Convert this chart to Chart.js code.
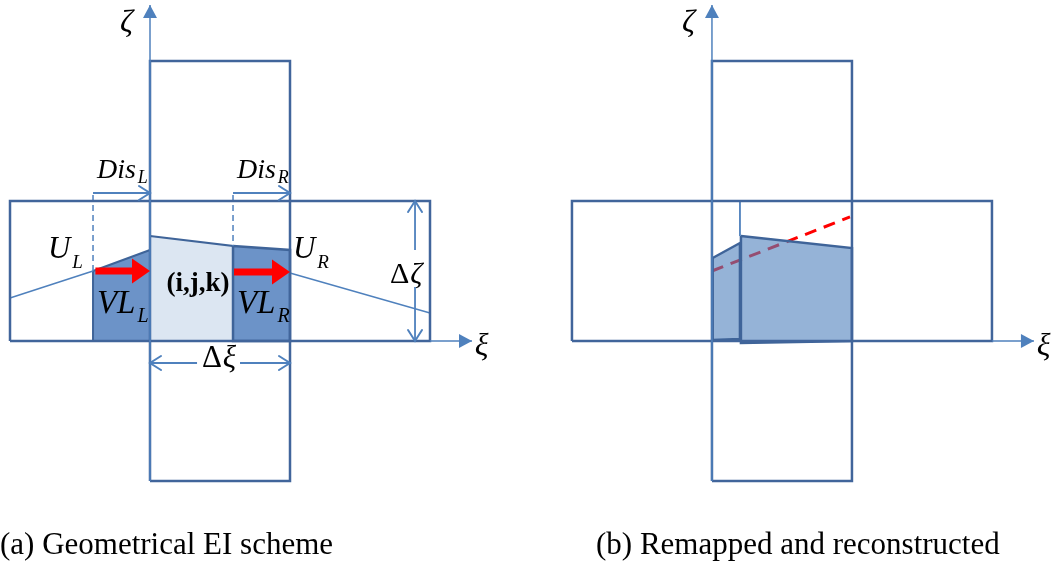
<!DOCTYPE html>
<html>
<head>
<meta charset="utf-8">
<script src="https://cdn.jsdelivr.net/npm/chart.js@4.4.0/dist/chart.umd.min.js"></script>
<style>
html, body { margin: 0; padding: 0; background: #fff; }
</style>
</head>
<body>
<canvas id="scheme-chart" width="1053" height="562"></canvas>
<script>
// Geometry in cell units: origin is the lower-left corner of cell (i,j,k), one cell = 1
var panelOffset = 4.014;   // panel (b) is drawn this far to the right of panel (a)

// grid shared by both panels
var rowBox = [[-1, 0], [2, 0], [2, 1], [-1, 1], [-1, 0]];
var columnBox = [[0, -1], [1, -1], [1, 2], [0, 2], [0, -1]];
var zetaAxis = [[0, -1], [0, 2.4]];
var xiAxis = [[2, 0], [2.3, 0]];

// panel (a) geometrical EI scheme
var volLeft = [[-0.407, 0.5], [0, 0.65], [0, 0], [-0.407, 0], [-0.407, 0.5]];
var volCenter = [[0, 0.75], [0.593, 0.679], [0.593, 0], [0, 0], [0, 0.75]];
var volRight = [[0.593, 0.679], [1, 0.65], [1, 0], [0.593, 0], [0.593, 0.679]];
var profileLeft = [[-1, 0.307], [-0.407, 0.5]];
var profileRight = [[1, 0.486], [2, 0.2]];
var disLeftGuide = [[-0.407, 1.043], [-0.407, 0.5]];
var disRightGuide = [[0.593, 1.043], [0.593, 0.679]];
var disLeftArrow = [[-0.407, 1.057], [0, 1.057]];
var disRightArrow = [[0.593, 1.057], [1, 1.057]];
var fluxLeft = [[-0.39, 0.5], [0, 0.5]];
var fluxRight = [[0.6, 0.493], [1, 0.493]];
var dZeta = [[1.893, 0], [1.893, 0.386], null, [1.893, 0.65], [1.893, 1]];
var dXi = [[0, -0.157], [0.336, -0.157], null, [0.643, -0.157], [1, -0.157]];

// panel (b) remapped and reconstructed
var remapLeft = [[0.005, 0.593], [0.2, 0.7], [0.2, 0.014], [0.005, 0.007], [0.005, 0.593]];
var remapMain = [[0.207, 0.75], [1, 0.664], [1, 0], [0.207, -0.014], [0.207, 0.75]];
var remapGuide = [[0.2, 1], [0.2, 0.75]];
var reconLine = [[0, 0.5], [0.986, 0.886]];

var captions = ['(a) Geometrical EI scheme', '(b) Remapped and reconstructed'];

var BOX = '#41659b';
var AXIS = '#4f81bd';
var EDGE = '#3f6499';
var RED = '#ff0000';

function pts(arr, shift) {
    var out = [];
    var lastX = 0;
    arr.forEach(function (p) {
        if (p === null) { out.push({ x: lastX, y: null }); return; }
        lastX = p[0] + (shift || 0);
        out.push({ x: lastX, y: p[1] });
    });
    return out;
}

function lineSet(arr, shift, color, width, dash) {
    return {
        data: pts(arr, shift), showLine: true, fill: false, pointRadius: 0,
        borderColor: color, borderWidth: width, borderDash: dash || [], tension: 0, spanGaps: false
    };
}

function shapeSet(arr, shift, fillColor, edgeColor, width) {
    return {
        data: pts(arr, shift), showLine: true, fill: 'shape', backgroundColor: fillColor,
        pointRadius: 0, borderColor: edgeColor, borderWidth: width, tension: 0
    };
}

// bottom layer first
var datasets = [
    shapeSet(volLeft, 0, '#6c93c8', EDGE, 2),
    shapeSet(volCenter, 0, '#dce6f2', EDGE, 2),
    shapeSet(volRight, 0, '#6c93c8', EDGE, 2.5),
    lineSet(profileLeft, 0, AXIS, 1.5),
    lineSet(profileRight, 0, AXIS, 1.5),
    lineSet(disLeftGuide, 0, AXIS, 1.5, [6, 4]),
    lineSet(disRightGuide, 0, AXIS, 1.5, [6, 4]),
    lineSet(disLeftArrow, 0, AXIS, 1.8),
    lineSet(disRightArrow, 0, AXIS, 1.8),
    lineSet(dZeta, 0, AXIS, 1.8),
    lineSet(dXi, 0, AXIS, 1.8),
    lineSet(reconLine, panelOffset, RED, 3, [12, 8]),
    shapeSet(remapLeft, panelOffset, 'rgba(79,129,189,0.6)', EDGE, 2.5),
    shapeSet(remapMain, panelOffset, 'rgba(79,129,189,0.6)', EDGE, 2.5),
    lineSet(remapGuide, panelOffset, AXIS, 1.8)
];
[0, panelOffset].forEach(function (s) {
    datasets.push(lineSet(rowBox, s, BOX, 2.5));
    datasets.push(lineSet(columnBox, s, BOX, 2.5));
    datasets.push(lineSet(zetaAxis, s, AXIS, 1.5));
    datasets.push(lineSet(xiAxis, s, AXIS, 1.5));
});
datasets.forEach(function (d, i) { d.order = datasets.length - i; });

function headAt(ctx, from, to, len, half, color, open) {
    var a = Math.atan2(to[1] - from[1], to[0] - from[0]);
    var bx = to[0] - len * Math.cos(a), by = to[1] - len * Math.sin(a);
    var nx = -Math.sin(a) * half, ny = Math.cos(a) * half;
    ctx.beginPath();
    ctx.moveTo(bx + nx, by + ny);
    ctx.lineTo(to[0], to[1]);
    ctx.lineTo(bx - nx, by - ny);
    if (open) {
        ctx.strokeStyle = color; ctx.lineWidth = 2; ctx.lineCap = 'round'; ctx.stroke();
    } else {
        ctx.closePath(); ctx.fillStyle = color; ctx.fill();
    }
}

var arrowPlugin = {
    id: 'arrowHeads',
    afterDatasetsDraw: function (chart) {
        var ctx = chart.ctx, xs = chart.scales.x, ys = chart.scales.y;
        function px(p, s) { return [xs.getPixelForValue(p[0] + (s || 0)), ys.getPixelForValue(p[1])]; }
        ctx.save();
        [0, panelOffset].forEach(function (s) {
            headAt(ctx, px(zetaAxis[0], s), px(zetaAxis[1], s), 13, 7, AXIS, false);
            headAt(ctx, px(xiAxis[0], s), px(xiAxis[1], s), 13, 7, AXIS, false);
        });
        headAt(ctx, px(disLeftArrow[0]), px(disLeftArrow[1]), 11, 7, AXIS, true);
        headAt(ctx, px(disRightArrow[0]), px(disRightArrow[1]), 11, 7, AXIS, true);
        headAt(ctx, px(dZeta[1]), px(dZeta[0]), 11, 7, AXIS, true);
        headAt(ctx, px(dZeta[3]), px(dZeta[4]), 11, 7, AXIS, true);
        headAt(ctx, px(dXi[1]), px(dXi[0]), 11, 7, AXIS, true);
        headAt(ctx, px(dXi[3]), px(dXi[4]), 11, 7, AXIS, true);
        // red flux arrows: shaft plus solid head
        [fluxLeft, fluxRight].forEach(function (f) {
            var a = px(f[0]), b = px(f[1]);
            ctx.beginPath();
            ctx.moveTo(a[0], a[1]);
            ctx.lineTo(b[0] - 14, b[1]);
            ctx.strokeStyle = RED; ctx.lineWidth = 7; ctx.lineCap = 'butt'; ctx.stroke();
            headAt(ctx, a, b, 18, 12.5, RED, false);
        });
        ctx.restore();
    },
    afterDraw: function (chart) {
        var ctx = chart.ctx, xs = chart.scales.x, ys = chart.scales.y;
        var SERIF = '"Liberation Serif", "Times New Roman", serif';
        function X(u) { return xs.getPixelForValue(u); }
        function Y(v) { return ys.getPixelForValue(v); }
        function put(text, x, y, font, align) {
            ctx.font = font; ctx.textAlign = align || 'left'; ctx.textBaseline = 'alphabetic';
            ctx.fillText(text, x, y);
            return ctx.measureText(text).width;
        }
        function sym(main, sub, u, v, size, subSize, drop) {
            var x = X(u), y = Y(v);
            var w = put(main, x, y, 'italic ' + size + 'px ' + SERIF);
            put(sub, x + w + 2, y + drop, 'italic ' + subSize + 'px ' + SERIF);
        }
        ctx.save();
        ctx.fillStyle = '#000';
        [0, panelOffset].forEach(function (s) {
            put('\u03b6', X(-0.214 + s), Y(2.207), 'italic 32px ' + SERIF);
            put('\u03be', X(2.32 + s), Y(-0.1), 'italic 32px ' + SERIF);
        });
        sym('U', 'L', -0.729, 0.593, 31, 19, 10);
        sym('U', 'R', 1.021, 0.593, 31, 19, 10);
        sym('VL', 'L', -0.379, 0.2, 33, 20, 9);
        sym('VL', 'R', 0.621, 0.2, 33, 20, 9);
        sym('Dis', 'L', -0.379, 1.164, 28, 18, 5);
        sym('Dis', 'R', 0.621, 1.164, 28, 18, 5);
        put('(i,j,k)', X(0.343), Y(0.357), 'bold 27px ' + SERIF, 'center');
        var w = put('\u0394', X(1.714), Y(0.414), '30px ' + SERIF);
        put('\u03b6', X(1.714) + w + 1, Y(0.414), 'italic 30px ' + SERIF);
        ctx.font = '31px ' + SERIF;
        var wd = ctx.measureText('\u0394').width;
        ctx.font = 'italic 31px ' + SERIF;
        var wx = ctx.measureText('\u03be').width;
        var left = X(0.493) - (wd + wx + 1) / 2;
        put('\u0394', left, Y(-0.186), '31px ' + SERIF);
        put('\u03be', left + wd + 1, Y(-0.186), 'italic 31px ' + SERIF);
        put(captions[0], 0, 554, '31px ' + SERIF);
        put(captions[1], 596, 554, '31px ' + SERIF);
        ctx.restore();
    }
};

new Chart(document.getElementById('scheme-chart'), {
    type: 'scatter',
    data: { datasets: datasets },
    options: {
        responsive: false,
        animation: false,
        events: [],
        layout: { padding: 0 },
        plugins: { legend: { display: false }, tooltip: { enabled: false } },
        scales: {
            x: { type: 'linear', min: -150 / 140, max: 903 / 140, display: false },
            y: { type: 'linear', min: -221 / 140, max: 341 / 140, display: false }
        }
    },
    plugins: [arrowPlugin]
});
</script>
</body>
</html>
